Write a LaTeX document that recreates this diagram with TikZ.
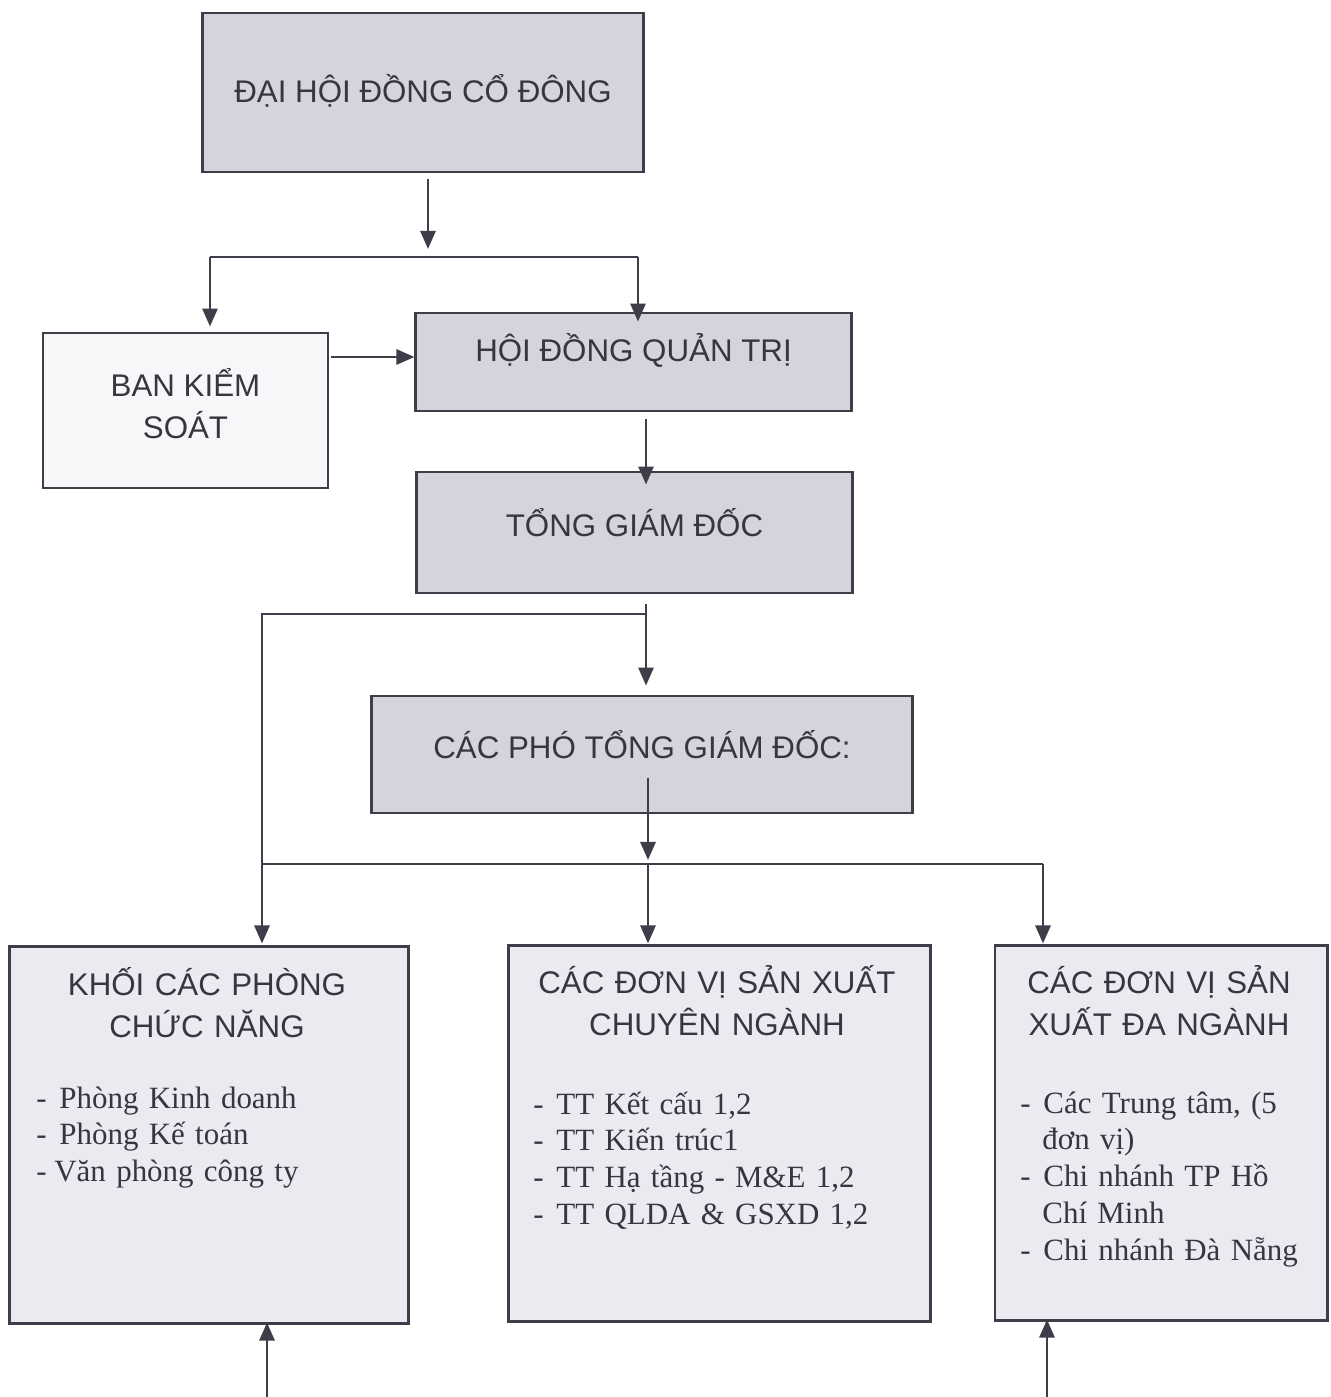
\documentclass[tikz,border=0pt]{standalone}
\usepackage{fontspec}
\setmainfont{Liberation Serif}
\newfontfamily\headfont{Liberation Sans}
\usetikzlibrary{arrows.meta,positioning}

\definecolor{boxgray}{RGB}{212,213,220}
\definecolor{boxpale}{RGB}{234,234,241}
\definecolor{boxwhite}{RGB}{247,247,250}
\definecolor{inkgray}{RGB}{62,62,74}
\definecolor{textgray}{RGB}{54,54,64}

\newcommand{\dashit}{\makebox[0.23cm][l]{-}}
\newcommand{\dashnarrow}{\makebox[0.18cm][l]{-}}
\newcommand{\hang}{\hspace*{0.22cm}}

\tikzset{
  topbox/.style={draw=inkgray,fill=boxgray,inner sep=0pt,text=textgray,
    font=\headfont\fontsize{8.9}{12}\selectfont,align=center},
  unitbox/.style={draw=inkgray,fill=boxpale,inner sep=0pt},
  unithead/.style={inner sep=0pt,text=textgray,anchor=base,
    font=\headfont\fontsize{8.9}{12}\selectfont,align=center},
  unitlist/.style={inner sep=0pt,text=textgray,anchor=base west,
    font=\fontsize{8.8}{10.5}\selectfont,align=left},
}

\begin{document}
\begin{tikzpicture}[x=0.01cm,y=-0.01cm,line width=0.8pt,color=inkgray,
    >={Triangle[length=1.8mm,width=1.5mm]}]
    \path[use as bounding box,fill=white] (0,0) rectangle (1331,1397);

    % boxes
    \node (dhdcd) [topbox,minimum width=4.40cm,minimum height=1.59cm,text height=0.25cm,text depth=0.06cm] at (423,92.5) {ĐẠI HỘI ĐỒNG CỔ ĐÔNG};
    \node (bks) [topbox,fill=boxwhite,minimum width=2.85cm,minimum height=1.55cm,font=\headfont\fontsize{8.9}{12.2}\selectfont,text depth=0.14cm] at (185.5,410.5) {BAN KIỂM\\SOÁT};
    \node (hdqt) [topbox,minimum width=4.35cm,minimum height=0.98cm,text height=0.25cm,text depth=0.27cm] at (633.5,362) {HỘI ĐỒNG QUẢN TRỊ};
    \node (tgd) [topbox,minimum width=4.35cm,minimum height=1.21cm,text height=0.25cm,text depth=0.18cm] at (634.5,532.5) {TỔNG GIÁM ĐỐC};
    \node (ptgd) [topbox,minimum width=5.40cm,minimum height=1.17cm,text height=0.25cm,text depth=0.18cm] at (642,754.5) {CÁC PHÓ TỔNG GIÁM ĐỐC:};

    \node (kpcn) [unitbox,minimum width=3.98cm,minimum height=3.76cm] at (209,1135) {};
    \node (sxcn) [unitbox,minimum width=4.21cm,minimum height=3.75cm] at (719.5,1133.5) {};
    \node (sxdn) [unitbox,minimum width=3.32cm,minimum height=3.74cm] at (1161,1133) {};

    % unit texts
    \node (kpcnT) [unithead,text width=3.6cm] at (207,995) {KHỐI CÁC PHÒNG\\CHỨC NĂNG};
    \node (sxcnT) [unithead,text width=4.0cm] at (717,993) {CÁC ĐƠN VỊ SẢN XUẤT\\CHUYÊN NGÀNH};
    \node (sxdnT) [unithead,text width=3.1cm] at (1159,993) {CÁC ĐƠN VỊ SẢN\\XUẤT ĐA NGÀNH};

    \node (kpcnL) [unitlist,text width=3.5cm] at (35,1108) {\dashit Phòng Kinh doanh\\\dashit Phòng Kế toán\\\dashnarrow Văn phòng công ty};
    \node (sxcnL) [unitlist,text width=3.8cm] at (532,1114) {\dashit TT Kết cấu 1,2\\\dashit TT Kiến trúc1\\\dashit TT Hạ tầng - M\&E 1,2\\\dashit TT QLDA \& GSXD 1,2};
    \node (sxdnL) [unitlist,text width=3.0cm] at (1019,1113) {\dashit Các Trung tâm, (5\\\hang đơn vị)\\\dashit Chi nhánh TP Hồ\\\hang Chí Minh\\\dashit Chi nhánh Đà Nẵng};

    % junctions
    \coordinate (split1) at (428,257);
    \coordinate (toBKS) at (210,257);
    \coordinate (toHD) at (638,257);
    \coordinate (spine) at (646,614);
    \coordinate (toKP) at (262,614);
    \coordinate (split3) at (648,864);
    \coordinate (toSD) at (1043,864);
    \coordinate (inKP) at (267,1397);
    \coordinate (inSD) at (1047,1397);

    % connectors
    \draw[->,shorten <=0.06cm,shorten >=0.08cm] (dhdcd.south -| split1) -- (split1);
    \draw (toBKS) -- (toHD);
    \draw[->,shorten >=0.05cm] (toBKS) -- (bks.north -| toBKS);
    \draw[->,shorten >=-0.1cm] (toHD) -- (hdqt.north -| toHD);
    \draw[->,shorten <=0.02cm] ([yshift=0.05cm]bks.east |- hdqt) -- ([yshift=0.05cm]hdqt.west);
    \draw[->,shorten <=0.07cm,shorten >=-0.14cm] (hdqt.south -| spine) -- (tgd.north -| spine);
    \draw[->,shorten <=0.1cm,shorten >=0.09cm] (tgd.south -| spine) -- (ptgd.north -| spine);
    \draw[->,shorten >=0.02cm] (spine) -- (toKP) -- (kpcn.north -| toKP);
    \draw[->,shorten >=0.04cm] ([yshift=-0.23cm]ptgd.center -| split3) -- (split3);
    \draw (toKP |- split3) -- (toSD);
    \draw[->,shorten >=0.01cm] (split3) -- (sxcn.north -| split3);
    \draw[->,shorten >=0.01cm] (toSD) -- (sxdn.north -| toSD);
    \draw[->,shorten >=-0.02cm] (inKP) -- (kpcn.south -| inKP);
    \draw[->,shorten >=-0.02cm] (inSD) -- (sxdn.south -| inSD);
\end{tikzpicture}
\end{document}
